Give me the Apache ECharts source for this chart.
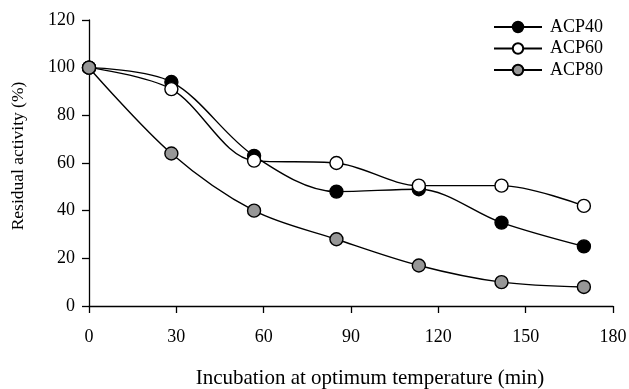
<!DOCTYPE html>
<html>
<head>
<meta charset="utf-8">
<script src="https://cdn.jsdelivr.net/npm/echarts@6/dist/echarts.min.js"></script>
<style>
html,body{margin:0;padding:0;background:#fff;}
#chart{width:629px;height:389px;}
</style>
</head>
<body>
<div id="chart"></div>
<script>
const times = [0, 28.3, 56.7, 85, 113.3, 141.7, 170];
const acp40 = [100, 94, 63, 48, 49, 35, 25];
const acp60 = [100, 91, 61, 60, 50.5, 50.5, 42];
const acp80 = [100, 64, 40, 28, 17, 10, 8];
const seriesNames = ['ACP40', 'ACP60', 'ACP80'];
const xTicks = [0, 30, 60, 90, 120, 150, 180];
const yTicks = [0, 20, 40, 60, 80, 100, 120];

const FONT = 'Liberation Serif';
const fills = ['#000000', '#ffffff', '#979797'];
const values = [acp40, acp60, acp80];

const chart = echarts.init(document.getElementById('chart'));
chart.setOption({
  animation: false,
  textStyle: { fontFamily: FONT, color: '#000' },
  grid: { left: 89, right: 16, top: 20, bottom: 83, containLabel: false, outerBoundsMode: 'none' },
  legend: {
    orient: 'vertical',
    left: 493,
    top: 18,
    padding: 0,
    itemWidth: 48,
    itemHeight: 13,
    itemGap: 3.5,
    textStyle: { fontFamily: FONT, fontSize: 18, color: '#000', padding: [0, 0, 0, 3] },
    data: seriesNames
  },
  xAxis: {
    type: 'value',
    min: xTicks[0],
    max: xTicks[xTicks.length - 1],
    interval: 30,
    name: 'Incubation at optimum temperature (min)',
    nameLocation: 'middle',
    nameGap: 62,
    nameTextStyle: { fontFamily: FONT, fontSize: 21, color: '#000', padding: [0, 0, 0, 38] },
    axisLine: { lineStyle: { color: '#000', width: 1.3 } },
    axisTick: { length: 7, lineStyle: { color: '#000', width: 1.3 } },
    axisLabel: { fontFamily: FONT, fontSize: 18, color: '#000', margin: 22 },
    splitLine: { show: false }
  },
  yAxis: {
    type: 'value',
    min: yTicks[0],
    max: yTicks[yTicks.length - 1],
    interval: 20,
    name: 'Residual activity (%)',
    nameLocation: 'middle',
    nameGap: 62,
    nameTextStyle: { fontFamily: FONT, fontSize: 17.5, color: '#000', padding: [0, 0, 0, 14] },
    axisLine: { show: true, lineStyle: { color: '#000', width: 1.3 } },
    axisTick: { show: true, length: 7, lineStyle: { color: '#000', width: 1.3 } },
    axisLabel: { fontFamily: FONT, fontSize: 18, color: '#000', margin: 14 },
    splitLine: { show: false }
  },
  series: seriesNames.map((name, i) => ({
    name: name,
    type: 'line',
    smooth: 0.33,
    symbol: 'circle',
    symbolSize: 13,
    showAllSymbol: true,
    data: times.map((t, j) => [t, values[i][j]]),
    lineStyle: { color: '#000', width: 1.4 },
    itemStyle: { color: fills[i], borderColor: '#000', borderWidth: 1.4 },
    z: 2 + i
  }))
});
</script>
</body>
</html>
